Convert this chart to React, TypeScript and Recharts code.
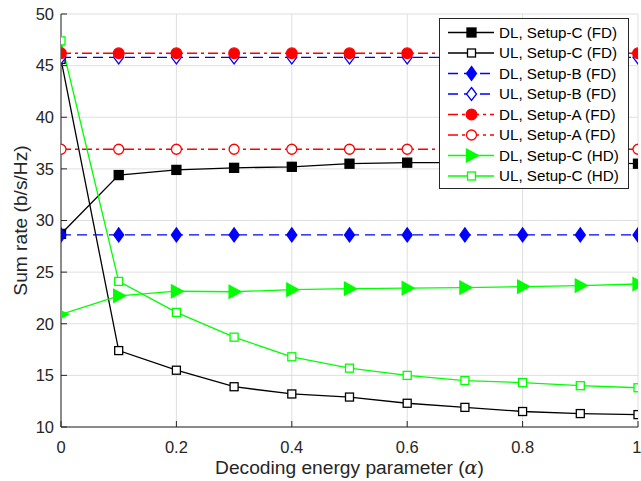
import React from 'react';
import { LineChart, Line, XAxis, YAxis, CartesianGrid, Legend } from 'recharts';

const alpha = [0, 0.1, 0.2, 0.3, 0.4, 0.5, 0.6, 0.7, 0.8, 0.9, 1];
const dlSetupC_FD = [28.7, 34.4, 34.9, 35.1, 35.2, 35.5, 35.6, 35.6, 35.6, 35.6, 35.5];
const ulSetupC_FD = [45.6, 17.4, 15.5, 13.9, 13.2, 12.9, 12.3, 11.9, 11.5, 11.3, 11.2];
const dlSetupB_FD = [28.6, 28.6, 28.6, 28.6, 28.6, 28.6, 28.6, 28.6, 28.6, 28.6, 28.6];
const ulSetupB_FD = [45.8, 45.8, 45.8, 45.8, 45.8, 45.8, 45.8, 45.8, 45.8, 45.8, 45.8];
const dlSetupA_FD = [46.2, 46.2, 46.2, 46.2, 46.2, 46.2, 46.2, 46.2, 46.2, 46.2, 46.2];
const ulSetupA_FD = [36.9, 36.9, 36.9, 36.9, 36.9, 36.9, 36.9, 36.9, 36.9, 36.9, 36.9];
const dlSetupC_HD = [20.9, 22.7, 23.15, 23.1, 23.3, 23.4, 23.45, 23.5, 23.6, 23.7, 23.85];
const ulSetupC_HD = [47.4, 24.1, 21.1, 18.7, 16.8, 15.7, 15.0, 14.5, 14.3, 14.0, 13.8];

const xTicks = [0, 0.2, 0.4, 0.6, 0.8, 1];
const yTicks = [10, 15, 20, 25, 30, 35, 40, 45, 50];

const FONT = '"Liberation Sans", Arial, Helvetica, sans-serif';
const AXIS = '#262626';

type Kind = 'sqF' | 'sqO' | 'diaF' | 'diaO' | 'cirF' | 'cirO' | 'tri';

const series: { key: string; name: string; values: number[]; color: string; dash?: string; marker: Kind }[] = [
  { key: 'dlC_FD', name: 'DL, Setup-C (FD)', values: dlSetupC_FD, color: '#000000', marker: 'sqF' },
  { key: 'ulC_FD', name: 'UL, Setup-C (FD)', values: ulSetupC_FD, color: '#000000', marker: 'sqO' },
  { key: 'dlB_FD', name: 'DL, Setup-B (FD)', values: dlSetupB_FD, color: '#0000ff', dash: '10 6', marker: 'diaF' },
  { key: 'ulB_FD', name: 'UL, Setup-B (FD)', values: ulSetupB_FD, color: '#0000ff', dash: '10 6', marker: 'diaO' },
  { key: 'dlA_FD', name: 'DL, Setup-A (FD)', values: dlSetupA_FD, color: '#ff0000', dash: '10 4 3 4', marker: 'cirF' },
  { key: 'ulA_FD', name: 'UL, Setup-A (FD)', values: ulSetupA_FD, color: '#ff0000', dash: '10 4 3 4', marker: 'cirO' },
  { key: 'dlC_HD', name: 'DL, Setup-C (HD)', values: dlSetupC_HD, color: '#00ff00', marker: 'tri' },
  { key: 'ulC_HD', name: 'UL, Setup-C (HD)', values: ulSetupC_HD, color: '#00ff00', marker: 'sqO' },
];

const rows = alpha.map((a, i) => {
  const r: Record<string, number> = { alpha: a };
  series.forEach((s) => {
    r[s.key] = s.values[i];
  });
  return r;
});

function marker(kind: Kind, cx: number, cy: number, color: string, key?: React.Key) {
  const sw = 1.3;
  switch (kind) {
    case 'sqF':
      return <rect key={key} x={cx - 4.5} y={cy - 4.5} width={9} height={9} fill={color} stroke={color} strokeWidth={sw} />;
    case 'sqO':
      return <rect key={key} x={cx - 4} y={cy - 4} width={8} height={8} fill="#ffffff" stroke={color} strokeWidth={sw} />;
    case 'diaF':
      return <polygon key={key} points={`${cx},${cy - 7} ${cx + 5},${cy} ${cx},${cy + 7} ${cx - 5},${cy}`} fill={color} stroke={color} strokeWidth={sw} />;
    case 'diaO':
      return <polygon key={key} points={`${cx},${cy - 6.5} ${cx + 5},${cy} ${cx},${cy + 6.5} ${cx - 5},${cy}`} fill="#ffffff" stroke={color} strokeWidth={sw} />;
    case 'cirF':
      return <circle key={key} cx={cx} cy={cy} r={5.3} fill={color} stroke={color} strokeWidth={sw} />;
    case 'cirO':
      return <circle key={key} cx={cx} cy={cy} r={5} fill="#ffffff" stroke={color} strokeWidth={sw} />;
    case 'tri':
      return <polygon key={key} points={`${cx - 5},${cy - 6.5} ${cx + 7},${cy} ${cx - 5},${cy + 6.5}`} fill={color} stroke={color} strokeWidth={sw} />;
  }
  return null;
}

function LegendBox() {
  const w = 190;
  const h = 171;
  return (
    <svg width={w} height={h} style={{ display: 'block', overflow: 'visible' }}>
      <rect x={0.5} y={0.5} width={w - 1} height={h - 1} fill="#ffffff" stroke={AXIS} strokeWidth={1} />
      {series.map((s, i) => {
        const y = 14.5 + i * 20.5;
        return (
          <g key={s.key}>
            <line x1={9} x2={55} y1={y} y2={y} stroke={s.color} strokeWidth={1.3} strokeDasharray={s.dash} />
            {marker(s.marker, 32.5, y, s.color)}
            <text x={60} y={y + 5.4} fontFamily={FONT} fontSize={15.2} fill="#000000">
              {s.name}
            </text>
          </g>
        );
      })}
    </svg>
  );
}

function XLabel(props: any) {
  const vb = props.viewBox || { x: 61, y: 427, width: 577, height: 54 };
  return (
    <text x={vb.x + vb.width / 2} y={vb.y + 47} textAnchor="middle" fontFamily={FONT} fontSize={19.2} fill={AXIS}>
      Decoding energy parameter (
      <tspan fontFamily='"DejaVu Serif", "Liberation Serif", serif' fontStyle="italic">α</tspan>)
    </text>
  );
}

function YLabel(props: any) {
  const vb = props.viewBox || { x: 0, y: 14, width: 61, height: 413 };
  const cx = 26.5;
  const cy = vb.y + vb.height / 2;
  return (
    <text x={cx} y={cy} transform={`rotate(-90 ${cx} ${cy})`} textAnchor="middle" fontFamily={FONT} fontSize={19.2} fill={AXIS}>
      Sum rate (b/s/Hz)
    </text>
  );
}

const noLabel = () => '';

export default function App() {
  const tickStyle = { fontFamily: FONT, fontSize: 16.5, fill: AXIS };
  const hiddenTick = { fontSize: 0, fill: 'none' };
  return (
    <div style={{ position: 'absolute', left: 0, top: 0, width: 641, height: 481, background: '#ffffff' }}>
      <LineChart width={641} height={481} data={rows} margin={{ top: 14, right: 3, left: 0, bottom: 0 }}>
        <CartesianGrid stroke="#dfdfdf" strokeWidth={1} horizontalValues={yTicks} verticalValues={xTicks} />
        <XAxis
          dataKey="alpha"
          type="number"
          domain={[0, 1]}
          ticks={xTicks}
          allowDataOverflow
          height={54}
          tickSize={-6}
          tickMargin={20}
          tick={tickStyle}
          stroke={AXIS}
          tickFormatter={(v: number) => String(v)}
          label={<XLabel />}
        />
        <XAxis
          xAxisId="top"
          dataKey="alpha"
          type="number"
          orientation="top"
          domain={[0, 1]}
          ticks={xTicks}
          height={0}
          tickSize={-6}
          tick={hiddenTick}
          tickFormatter={noLabel}
          stroke={AXIS}
        />
        <YAxis
          type="number"
          domain={[10, 50]}
          ticks={yTicks}
          allowDataOverflow
          width={61}
          tickSize={-6}
          tickMargin={13}
          tick={tickStyle}
          stroke={AXIS}
          label={<YLabel />}
        />
        <YAxis
          yAxisId="right"
          type="number"
          orientation="right"
          domain={[10, 50]}
          ticks={yTicks}
          width={0}
          tickSize={-6}
          tick={hiddenTick}
          tickFormatter={noLabel}
          stroke={AXIS}
        />
        {series.map((s) => (
          <Line
            key={s.key}
            dataKey={s.key}
            name={s.name}
            type="linear"
            stroke={s.color}
            strokeWidth={1.3}
            strokeDasharray={s.dash}
            isAnimationActive={false}
            activeDot={false}
            dot={(p: any) => marker(s.marker, p.cx, p.cy, s.color, `${s.key}-${p.index}`)}
          />
        ))}
        <Legend
          content={() => <LegendBox />}
          wrapperStyle={{ position: 'absolute', left: 439, top: 18, width: 0, height: 0, overflow: 'visible' }}
        />
      </LineChart>
    </div>
  );
}
